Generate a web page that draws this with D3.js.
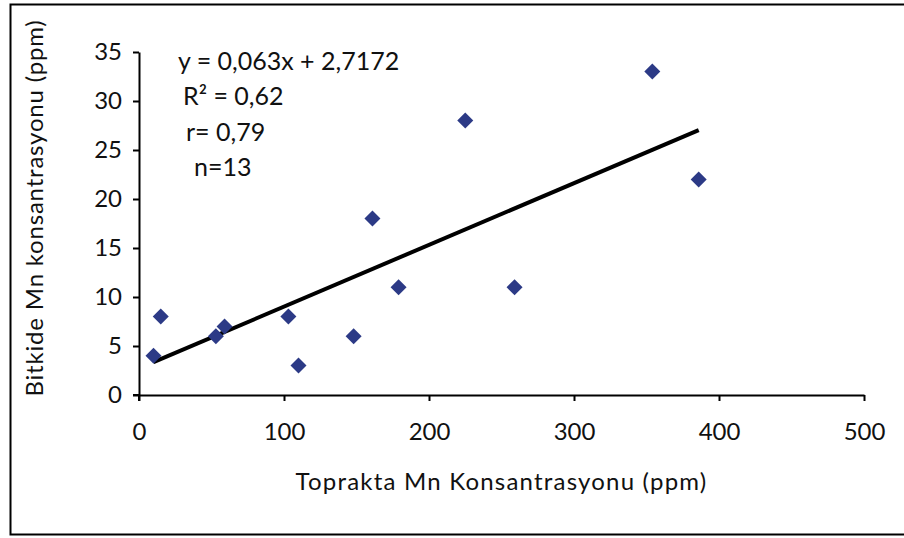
<!DOCTYPE html>
<html>
<head>
<meta charset="utf-8">
<script src="https://cdn.jsdelivr.net/npm/d3@7"></script>
<style>
  body { margin: 0; background: white; }
  svg text { font-family: Lato, "Open Sans", sans-serif; fill: #111; }
</style>
</head>
<body>
<svg id="chart" width="904" height="538"></svg>
<script>
// soil Mn (x) vs plant Mn (y), ppm
var soil_mn  = [10, 15, 53, 59, 103, 110, 148, 161, 179, 225, 259, 354, 386];
var plant_mn = [4, 8, 6, 7, 8, 3, 6, 18, 11, 28, 11, 33, 22];

var x_ticks = [0, 100, 200, 300, 400, 500];
var y_ticks = [0, 5, 10, 15, 20, 25, 30, 35];

// Excel linear trendline
var trend_slope = 0.063;
var trend_icept = 2.7172;
var stat_lines = ['y = 0,063x + 2,7172', 'R\u00B2 = 0,62', 'r= 0,79', 'n=13'];

var x_title = 'Toprakta Mn Konsantrasyonu (ppm)';
var y_title = 'Bitkide Mn konsantrasyonu (ppm)';

var svg = d3.select('#chart');
var point_color = '#2c3a86';
var fs = 24;

// outer frame
svg.append('rect')
  .attr('x', 10.5).attr('y', 4.5)
  .attr('width', 902).attr('height', 530)
  .attr('fill', 'none')
  .attr('stroke', '#000')
  .attr('stroke-width', 2);

var x = d3.scaleLinear().domain([0, 500]).range([139, 864]);
var y = d3.scaleLinear().domain([0, 35]).range([395, 52]);

var x_axis = svg.append('g')
  .attr('transform', 'translate(0,' + y(0) + ')')
  .call(d3.axisBottom(x).tickValues(x_ticks).tickSize(6).tickPadding(22).tickSizeOuter(0));

var y_axis = svg.append('g')
  .attr('transform', 'translate(' + x(0) + ',0)')
  .call(d3.axisLeft(y).tickValues(y_ticks).tickSize(6).tickPadding(11).tickSizeOuter(0));

[x_axis, y_axis].forEach(function(ax){
  ax.select('.domain').attr('stroke', '#000').attr('stroke-width', 2);
  ax.selectAll('.tick line').attr('stroke', '#000').attr('stroke-width', 2);
  ax.selectAll('.tick text')
    .style('font-family', 'Lato, "Open Sans", sans-serif')
    .style('font-size', fs + 'px')
    .attr('fill', '#111');
});

// extend x axis a little left of the y axis, like the excel cross
svg.append('line')
  .attr('x1', x(0) - 6).attr('x2', x(0))
  .attr('y1', y(0)).attr('y2', y(0))
  .attr('stroke', '#000').attr('stroke-width', 2);
svg.append('line')
  .attr('x1', x(0)).attr('x2', x(0))
  .attr('y1', y(0)).attr('y2', y(0) + 6)
  .attr('stroke', '#000').attr('stroke-width', 2);

// trendline across the data range
var x_ext = d3.extent(soil_mn);
svg.append('line')
  .attr('x1', x(x_ext[0])).attr('y1', y(trend_slope * x_ext[0] + trend_icept))
  .attr('x2', x(x_ext[1])).attr('y2', y(trend_slope * x_ext[1] + trend_icept))
  .attr('stroke', '#000')
  .attr('stroke-width', 4)
  .attr('stroke-linecap', 'butt');

// diamonds
var diamond = d3.symbol().type(d3.symbolSquare).size(128);
svg.append('g')
  .selectAll('path')
  .data(soil_mn.map(function(d, i){ return [d, plant_mn[i]]; }))
  .enter()
  .append('path')
  .attr('d', diamond)
  .attr('transform', function(d){
    return 'translate(' + x(d[0]) + ',' + y(d[1]) + ') rotate(45)';
  })
  .attr('fill', point_color);

// regression stats text
var stat_x = [178, 183, 186, 194];
svg.append('g')
  .selectAll('text')
  .data(stat_lines)
  .enter()
  .append('text')
  .attr('x', function(d, i){ return stat_x[i]; })
  .attr('y', function(d, i){ return 70 + i * 35.3; })
  .style('font-size', (fs + 1) + 'px')
  .text(function(d){ return d; });

// axis titles
svg.append('text')
  .attr('x', (x(0) + x(500)) / 2)
  .attr('y', 490)
  .attr('text-anchor', 'middle')
  .style('font-size', fs + 'px')
  .style('letter-spacing', '1.2px')
  .text(x_title);

svg.append('text')
  .attr('transform', 'translate(43,208) rotate(-90)')
  .attr('text-anchor', 'middle')
  .style('font-size', fs + 'px')
  .style('letter-spacing', '0.8px')
  .text(y_title);
</script>
</body>
</html>
